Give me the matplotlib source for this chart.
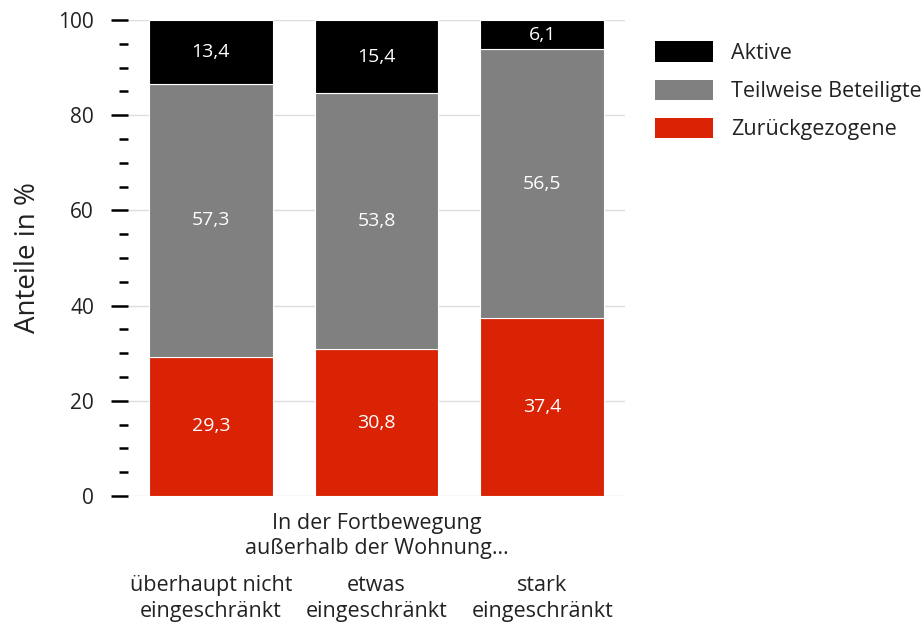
import matplotlib
matplotlib.use('Agg')
import matplotlib.pyplot as plt
from matplotlib.ticker import MultipleLocator
from matplotlib.patches import Patch

plt.rcParams['font.family'] = ['Open Sans', 'DejaVu Sans']

categories = ['überhaupt nicht\neingeschränkt', 'etwas\neingeschränkt', 'stark\neingeschränkt']
zurueck = [29.3, 30.8, 37.4]
teilweise = [57.3, 53.8, 56.5]
aktive = [13.4, 15.4, 6.1]
series_names = ['Aktive', 'Teilweise Beteiligte', 'Zurückgezogene']
colors = {'Aktive': '#000000', 'Teilweise Beteiligte': '#808080', 'Zurückgezogene': '#DA2205'}

fig = plt.figure(figsize=(9.24, 6.28), dpi=100)
ax = fig.add_axes([0.1385, 0.2102, 0.5379, 0.7578])

x = list(range(len(categories)))
w = 0.745
bottom = [0, 0, 0]
for name, vals in [('Zurückgezogene', zurueck), ('Teilweise Beteiligte', teilweise), ('Aktive', aktive)]:
    ax.bar(x, vals, width=w, bottom=bottom, color=colors[name], edgecolor='white', linewidth=0.8, zorder=3)
    for xi, v, b in zip(x, vals, bottom):
        ax.text(xi, b + v / 2, f'{v:.1f}'.replace('.', ','), ha='center', va='center',
                color='white', fontsize=14, zorder=4)
    bottom = [b + v for b, v in zip(bottom, vals)]

ax.set_xlim(-0.5, 2.5)
ax.set_ylim(0, 100)
ax.yaxis.set_major_locator(MultipleLocator(20))
ax.yaxis.set_minor_locator(MultipleLocator(5))
ax.tick_params(axis='y', which='major', length=12.5, width=1.8, labelsize=15, color='black', labelcolor='#222222', pad=12)
ax.tick_params(axis='y', which='minor', length=6.5, width=1.8, color='black')
ax.set_xticks(x)
ax.set_xticklabels(categories, fontsize=15.5, color='#222222', linespacing=1.3)
ax.tick_params(axis='x', length=0, pad=57)
for s in ax.spines.values():
    s.set_visible(False)
ax.grid(axis='y', which='major', color='#dddddd', linewidth=1, zorder=0)
ax.set_axisbelow(True)
ax.set_ylabel('Anteile in %', fontsize=20, color='#222222', labelpad=12)

ax.text(1, -3.5, 'In der Fortbewegung\naußerhalb der Wohnung…', transform=ax.transData,
        ha='center', va='top', fontsize=15.5, color='#222222', linespacing=1.3)

handles = [Patch(facecolor=colors[n], edgecolor='none') for n in series_names]
fig.legend(handles, series_names, loc='upper left', bbox_to_anchor=(0.688, 0.965),
           frameon=False, fontsize=15.5, handlelength=2.7, handleheight=1.1,
           handletextpad=0.84, labelspacing=0.72, labelcolor='#222222')

fig.savefig('out.png', dpi=100)
